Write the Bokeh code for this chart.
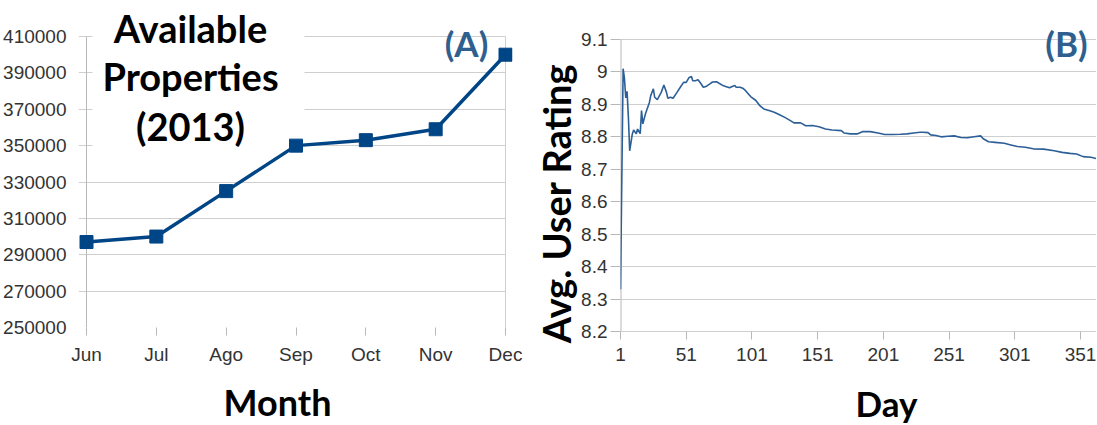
import math
from bokeh.plotting import figure
from bokeh.layouts import row, column
from bokeh.models import (FixedTicker, NumeralTickFormatter, CustomJSTickFormatter,
                          Label, BoxAnnotation, Range1d)
from bokeh.embed import file_html
from bokeh.resources import INLINE

# ---------------- data ----------------
months = ["Jun", "Jul", "Ago", "Sep", "Oct", "Nov", "Dec"]
available = [297000, 300000, 325000, 350000, 353000, 359000, 400000]
prop_ticks = [250000, 270000, 290000, 310000, 330000, 350000, 370000, 390000, 410000]

days = [1, 3, 4, 5, 6, 7, 8, 10, 11, 13, 14, 16, 17, 18, 20, 23, 24, 26, 27, 29,
        32, 34, 36, 37, 39, 41, 44, 47, 49, 51, 53, 55, 56, 58, 60, 62, 64, 66, 69, 71,
        74, 76, 79, 81, 84, 86, 88, 89, 92, 94, 96, 100, 104, 107, 110, 114, 118, 122, 126, 129,
        133, 138, 142, 147, 152, 157, 162, 169, 171, 176, 181, 185, 191, 197, 202, 208, 214, 219, 224, 229,
        231, 235, 237, 241, 245, 250, 255, 260, 265, 270, 275, 277, 281, 286, 293, 298, 303, 309, 315, 323,
        331, 337, 343, 348, 353, 359, 364]
rating = [8.33, 9.01, 8.98, 8.92, 8.94, 8.86, 8.757, 8.809, 8.821, 8.809, 8.824, 8.81, 8.881, 8.84, 8.871, 8.906, 8.927, 8.948, 8.922, 8.915,
          8.937, 8.96, 8.937, 8.919, 8.922, 8.919, 8.937, 8.956, 8.968, 8.968, 8.982, 8.986, 8.973, 8.973, 8.976, 8.965, 8.953, 8.955, 8.963, 8.969,
          8.97, 8.965, 8.958, 8.955, 8.951, 8.955, 8.958, 8.953, 8.953, 8.95, 8.943, 8.924, 8.912, 8.896, 8.886, 8.881, 8.876, 8.868, 8.86, 8.853,
          8.843, 8.843, 8.834, 8.835, 8.831, 8.824, 8.821, 8.819, 8.812, 8.809, 8.809, 8.816, 8.816, 8.812, 8.807, 8.807, 8.808, 8.809, 8.812, 8.814,
          8.814, 8.813, 8.806, 8.804, 8.800, 8.802, 8.803, 8.798, 8.797, 8.800, 8.803, 8.794, 8.785, 8.783, 8.780, 8.775, 8.770, 8.768, 8.763, 8.762,
          8.757, 8.752, 8.749, 8.747, 8.739, 8.737, 8.732]
day_ticks = [1, 51, 101, 151, 201, 251, 301, 351]
rating_ticks = [8.2, 8.3, 8.4, 8.5, 8.6, 8.7, 8.8, 8.9, 9.0, 9.1]

# ---------------- styles ----------------
TICK_FONT = "Liberation Sans"
BOLD_FONT = "Lato"
GRID = "#cfcfcf"
AXIS = "#b8b8b8"
NAVY = "#004586"
PANEL_BLUE = "#2f5f8f"
LINE_B = "#2c5f97"

TOTAL_W = 1096
TOP_H = 372      # row holding the two charts
BOT_H = 52       # row holding the x-axis titles
A_W = 528
AVG_W = 50
B_W = TOTAL_W - A_W - AVG_W
BOT_SPLIT = 540


def bold_label(x, y, text, size, color="black", angle=0.0):
    return Label(x=x, y=y, text=text, angle=angle, text_align="center",
                 text_baseline="middle", text_font=BOLD_FONT, text_font_style="bold",
                 text_font_size=size, text_color=color)


def text_fig(w, h):
    f = figure(width=w, height=h, output_backend="svg", toolbar_location=None,
               x_range=Range1d(0, w), y_range=Range1d(h, 0),
               x_axis_type=None, y_axis_type=None, min_border=0)
    f.frame_align = False
    f.outline_line_color = None
    f.background_fill_color = "white"
    f.border_fill_color = "white"
    f.grid.visible = False
    return f


def style_ticks(ax):
    ax.major_label_text_font = TICK_FONT
    ax.major_label_text_font_size = "19px"
    ax.major_label_text_color = "#333333"
    ax.minor_tick_line_color = None
    ax.major_tick_in = 0


# ---------------- panel A ----------------
month_idx = list(range(len(months)))
unit = (505 - 86) / (len(months) - 1)      # px per month step
xa0 = -8 / unit
xa1 = (len(months) - 1) + 7 / unit


def ax_x(px):
    return (px - 86) / unit


def ax_y(py):
    return prop_ticks[-1] - (py - 36) / 291 * (prop_ticks[-1] - prop_ticks[0])


pA = figure(width=A_W, height=TOP_H, output_backend="svg", toolbar_location=None,
            x_range=Range1d(xa0, xa1), y_range=Range1d(prop_ticks[0], ax_y(0)),
            min_border_left=78, min_border_right=A_W - 512, min_border_top=0,
            min_border_bottom=TOP_H - 327)
pA.frame_align = False
pA.outline_line_color = None
pA.border_fill_color = "white"
pA.xgrid.visible = False
pA.ygrid.grid_line_color = GRID
pA.ygrid.level = "image"

pA.yaxis.ticker = FixedTicker(ticks=prop_ticks)
pA.yaxis.formatter = NumeralTickFormatter(format="0")
pA.yaxis.axis_line_color = None
pA.yaxis.major_tick_line_color = None
pA.yaxis.major_label_standoff = 6

pA.xaxis.ticker = FixedTicker(ticks=month_idx)
pA.xaxis.major_label_overrides = {i: m for i, m in enumerate(months)}
pA.xaxis.axis_line_color = None
pA.xaxis.major_tick_line_color = AXIS
pA.xaxis.major_tick_out = 8
pA.xaxis.major_label_standoff = 8
style_ticks(pA.xaxis[0])
style_ticks(pA.yaxis[0])

# hide grid lines right of Dec and behind the title block
pA.add_layout(BoxAnnotation(left=month_idx[-1], right=xa1 + 1, bottom=prop_ticks[0] - 1e5,
                            top=prop_ticks[-1] + 1e5, fill_color="white", fill_alpha=1,
                            line_color=None, level="underlay"))
pA.add_layout(BoxAnnotation(left=ax_x(92), right=ax_x(304), bottom=ax_y(148), top=ax_y(-20),
                            fill_color="white", fill_alpha=1, line_color=None, level="underlay"))
# axis line at Jun and frame line at Dec
pA.segment(x0=[month_idx[0]], y0=[prop_ticks[0]], x1=[month_idx[0]], y1=[prop_ticks[-1]],
           line_color=AXIS, line_width=1)
pA.segment(x0=[month_idx[-1]], y0=[prop_ticks[0]], x1=[month_idx[-1]], y1=[prop_ticks[-1]],
           line_color=GRID, line_width=1)

pA.line(month_idx, available, line_color=NAVY, line_width=3.5)
pA.scatter(month_idx, available, marker="square", size=13, fill_color=NAVY, line_color=NAVY)

for txt, mid in (("Available", 27), ("Properties", 75.5), ("(2013)", 125.5)):
    pA.add_layout(bold_label(ax_x(190), ax_y(mid), txt, "38px"))
pA.add_layout(bold_label(ax_x(466), ax_y(42), "(A)", "35px", PANEL_BLUE))

# ---------------- y title of panel B ----------------
avgFig = text_fig(AVG_W, TOP_H)
avgFig.add_layout(bold_label(555 - A_W, 203, "Avg. User Rating", "38px", angle=math.pi / 2))

# ---------------- panel B ----------------
px_per_day = (1080 - 620) / (day_ticks[-1] - day_ticks[0])
xb0 = 1
xb1 = xb0 + (TOTAL_W - 620) / px_per_day


def by(py):
    return rating_ticks[-1] - (py - 39) / 292 * (rating_ticks[-1] - rating_ticks[0])


def bx(px):
    return xb0 + (px - 620) / px_per_day


pB = figure(width=B_W, height=TOP_H, output_backend="svg", toolbar_location=None,
            x_range=Range1d(xb0, xb1), y_range=Range1d(rating_ticks[0], by(0)),
            min_border_left=620 - A_W - AVG_W, min_border_right=0, min_border_top=0,
            min_border_bottom=TOP_H - 331)
pB.frame_align = False
pB.outline_line_color = None
pB.border_fill_color = "white"
pB.xgrid.visible = False
pB.ygrid.grid_line_color = GRID

pB.yaxis.ticker = FixedTicker(ticks=rating_ticks)
pB.yaxis.formatter = CustomJSTickFormatter(code="return (Math.round(tick*10)/10).toString();")
pB.yaxis.axis_line_color = None
pB.yaxis.major_tick_line_color = AXIS
pB.yaxis.major_tick_out = 10
pB.yaxis.major_label_standoff = 3

pB.xaxis.ticker = FixedTicker(ticks=day_ticks)
pB.xaxis.axis_line_color = GRID
pB.xaxis.major_tick_line_color = AXIS
pB.xaxis.major_tick_out = 8
pB.xaxis.major_label_standoff = 8
style_ticks(pB.xaxis[0])
style_ticks(pB.yaxis[0])

pB.segment(x0=[xb0], y0=[rating_ticks[0]], x1=[xb0], y1=[rating_ticks[-1]],
           line_color=AXIS, line_width=2)
pB.line(days, rating, line_color=LINE_B, line_width=1.6)
pB.add_layout(bold_label(bx(1066), by(42), "(B)", "35px", PANEL_BLUE))

# ---------------- x titles ----------------
monthFig = text_fig(BOT_SPLIT, BOT_H)
monthFig.add_layout(bold_label(277, 401 - TOP_H, "Month", "36px"))
dayFig = text_fig(TOTAL_W - BOT_SPLIT, BOT_H)
dayFig.add_layout(bold_label(886 - BOT_SPLIT, 402 - TOP_H, "Day", "35px"))

layout = column(row(pA, avgFig, pB), row(monthFig, dayFig))
open("out.html", "w").write(file_html(layout, INLINE))
